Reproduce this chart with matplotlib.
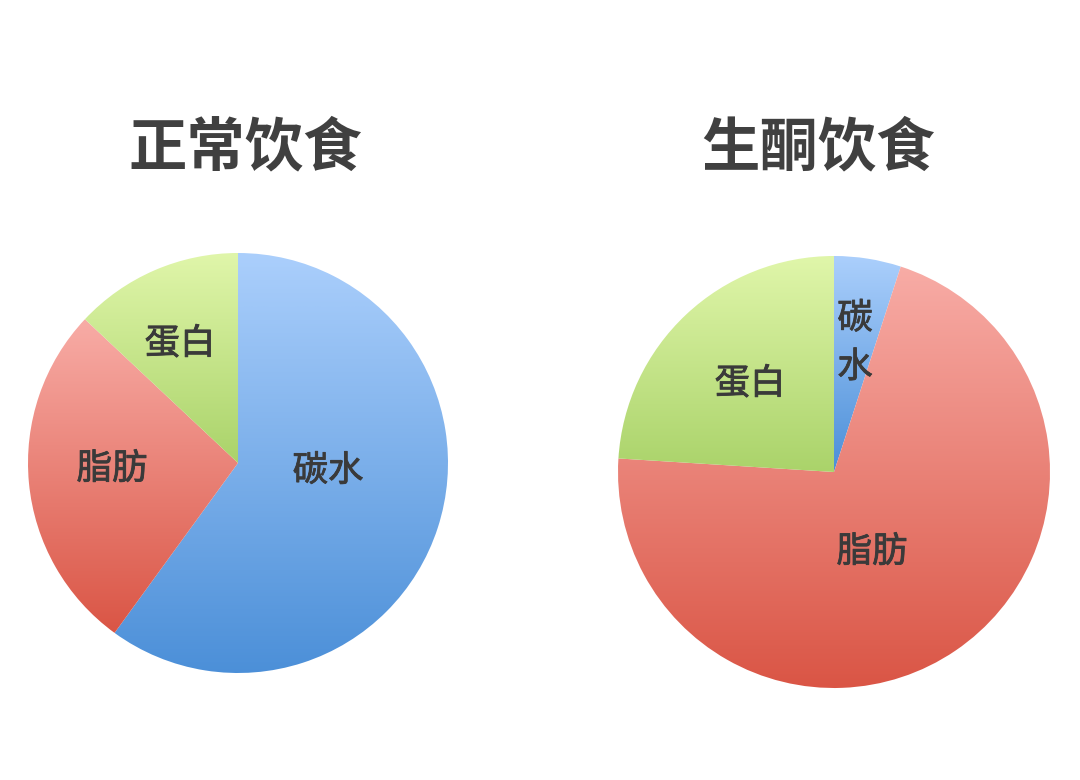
import numpy as np
import matplotlib
matplotlib.use("Agg")
import matplotlib.pyplot as plt
import matplotlib.patheffects as pe
from matplotlib.colors import LinearSegmentedColormap

plt.rcParams['font.family'] = ['Noto Sans CJK SC', 'DejaVu Sans']

# ---- data ----
categories = ["碳水", "脂肪", "蛋白"]
normal_values = [60, 27, 13]
keto_values = [5, 71, 24]
titles = ["正常饮食", "生酮饮食"]
keto_labels = ["碳\n水", "脂肪", "蛋白"]

# gradient colours per category (top, bottom)
grad_colors = {
    "碳水": ("#abcffc", "#4b8fd8"),
    "脂肪": ("#f8aca6", "#da5545"),
    "蛋白": ("#e0f6aa", "#aad36a"),
}

W, H = 1080, 780
fig = plt.figure(figsize=(W / 100, H / 100), dpi=100)
ax = fig.add_axes([0, 0, 1, 1])
ax.set_xlim(0, W)
ax.set_ylim(0, H)
ax.set_aspect('equal')
ax.axis('off')

pies = [
    dict(values=normal_values, center=(238, H - 463), radius=210,
         labels=categories,
         label_pos=[(328, 471), (112, 469), (180, 344)],
         title_pos=(245, 148)),
    dict(values=keto_values, center=(834, H - 472), radius=216,
         labels=keto_labels,
         label_pos=[(855, 343), (872, 552), (750, 384)],
         title_pos=(818, 148)),
]

grad = np.linspace(0, 1, 256).reshape(-1, 1)
label_color = '#3a3a3a'

for p, title in zip(pies, titles):
    wedges, _ = ax.pie(p['values'], center=p['center'], radius=p['radius'],
                       startangle=90, counterclock=False,
                       wedgeprops=dict(linewidth=0, edgecolor='none'),
                       frame=True)
    for w, cat in zip(wedges, categories):
        w.set_facecolor('none')
        verts = w.get_path().vertices
        dv = w.get_patch_transform().transform(verts)
        x0, y0 = dv[:, 0].min(), dv[:, 1].min()
        x1, y1 = dv[:, 0].max(), dv[:, 1].max()
        top, bot = grad_colors[cat]
        cmap = LinearSegmentedColormap.from_list(cat, [bot, top])
        im = ax.imshow(grad, cmap=cmap, extent=(x0, x1, y0, y1),
                       origin='lower', aspect='auto', interpolation='bilinear',
                       zorder=1)
        im.set_clip_path(w)
    for lab, (lx, ly) in zip(p['labels'], p['label_pos']):
        ax.text(lx, H - ly, lab, ha='center', va='center', fontsize=25.5,
                fontweight='normal', color=label_color, zorder=5,
                linespacing=1.45,
                path_effects=[pe.withStroke(linewidth=0.6, foreground=label_color)])
    tx, ty = p['title_pos']
    ax.text(tx, H - ty, title, ha='center', va='center', fontsize=42,
            fontweight='bold', color='#404040', zorder=5)

ax.set_xlim(0, W)
ax.set_ylim(0, H)
ax.axis('off')
fig.savefig('out.png', dpi=100, facecolor='white')
